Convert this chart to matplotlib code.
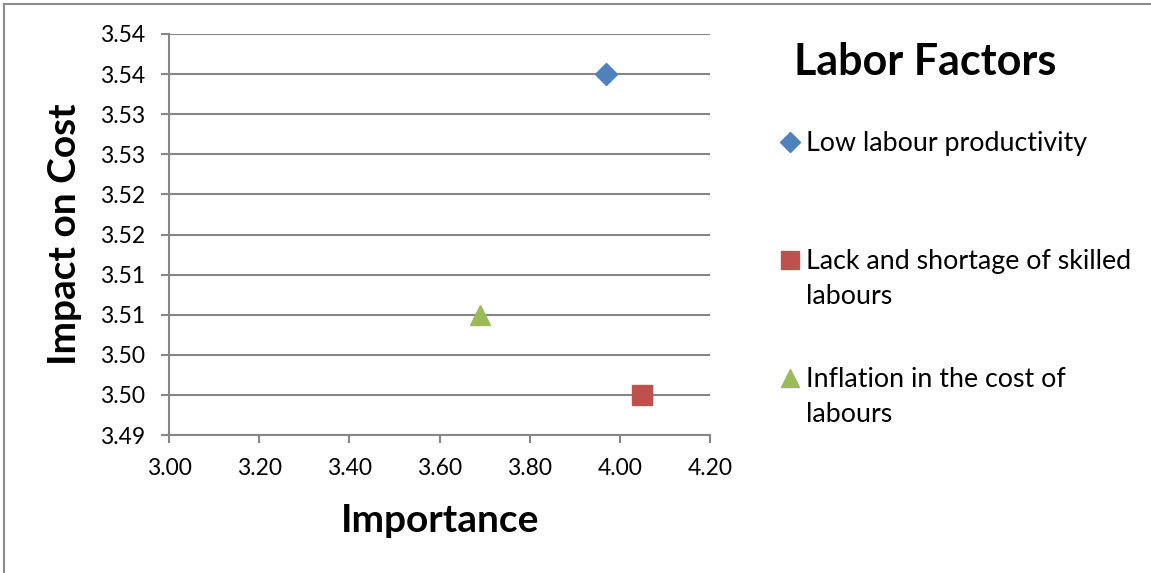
import matplotlib.pyplot as plt
from matplotlib.lines import Line2D
from matplotlib.patches import Rectangle

plt.rcParams['font.family'] = ['Lato', 'DejaVu Sans']

# data
series = ["Low labour productivity",
          "Lack and shortage of skilled\nlabours",
          "Inflation in the cost of\nlabours"]
importance = [3.97, 4.05, 3.69]
impact = [3.535, 3.495, 3.505]
colors = ["#4F81BD", "#C0504D", "#9BBB59"]
markers = ["D", "s", "^"]
sizes = [11, 14.5, 14.5]

x_ticks = [3.00, 3.20, 3.40, 3.60, 3.80, 4.00, 4.20]
y_ticks = [3.490, 3.495, 3.500, 3.505, 3.510, 3.515, 3.520, 3.525, 3.530, 3.535, 3.540]
y_tick_labels = ["3.49", "3.50", "3.50", "3.51", "3.51", "3.52",
                 "3.52", "3.53", "3.53", "3.54", "3.54"]

grid_col = "#868686"

fig = plt.figure(figsize=(11.51, 5.73), dpi=100)
W, H = 1151, 573
ax = fig.add_axes([169 / W, 1 - 435 / H, (710 - 169) / W, (435 - 34) / H])

for xi, yi, c, m, s in zip(importance, impact, colors, markers, sizes):
    ax.plot([xi], [yi], linestyle="none", marker=m, color=c, markersize=s,
            markeredgecolor=c, zorder=3, clip_on=False)

ax.set_xlim(3.0, 4.2)
ax.set_ylim(3.49, 3.54)
ax.set_xticks(x_ticks)
ax.set_xticklabels([f"{v:.2f}" for v in x_ticks])
ax.set_yticks(y_ticks)
ax.set_yticklabels(y_tick_labels)
ax.tick_params(axis="both", labelsize=16.5, color=grid_col, length=5.5, width=1.5)
ax.tick_params(axis="x", pad=11)
ax.tick_params(axis="y", pad=12)
ax.grid(axis="y", color=grid_col, linewidth=1.5)
ax.set_axisbelow(True)
for side in ["top", "right"]:
    ax.spines[side].set_visible(False)
for side in ["left", "bottom"]:
    ax.spines[side].set_color(grid_col)
    ax.spines[side].set_linewidth(1.5)

ax.set_xlabel("Importance", fontsize=28, fontweight="bold", va="center")
ax.set_ylabel("Impact on Cost", fontsize=28, fontweight="bold", va="center")
ax.xaxis.set_label_coords((440 - 169) / 541, (435 - 520) / 401)
ax.yaxis.set_label_coords((65 - 169) / 541, 0.5)

# title
fig.text(925 / W, 1 - 62 / H, "Labor Factors", fontsize=31, fontweight="bold",
         ha="center", va="center")

# legend, entries equally spaced by their first line
first_base = 151
entry_step = 118
line_step = 35
for i, (name, c, m, s) in enumerate(zip(series, colors, markers, sizes)):
    base = first_base + i * entry_step
    fig.add_artist(Line2D([790 / W], [1 - (base - 9) / H], transform=fig.transFigure,
                          linestyle="none", marker=m, color=c,
                          markersize=s * 0.9, markeredgecolor=c))
    for j, line in enumerate(name.split("\n")):
        fig.text(806 / W, 1 - (base + j * line_step) / H, line, fontsize=19.3,
                 ha="left", va="baseline")

fig.add_artist(Rectangle((4 / W, -0.1), 1.2, 1 - 4 / H + 0.1,
                         transform=fig.transFigure, fill=False,
                         edgecolor="#8c8c8c", linewidth=1.5))

fig.savefig("out.png", dpi=100)
